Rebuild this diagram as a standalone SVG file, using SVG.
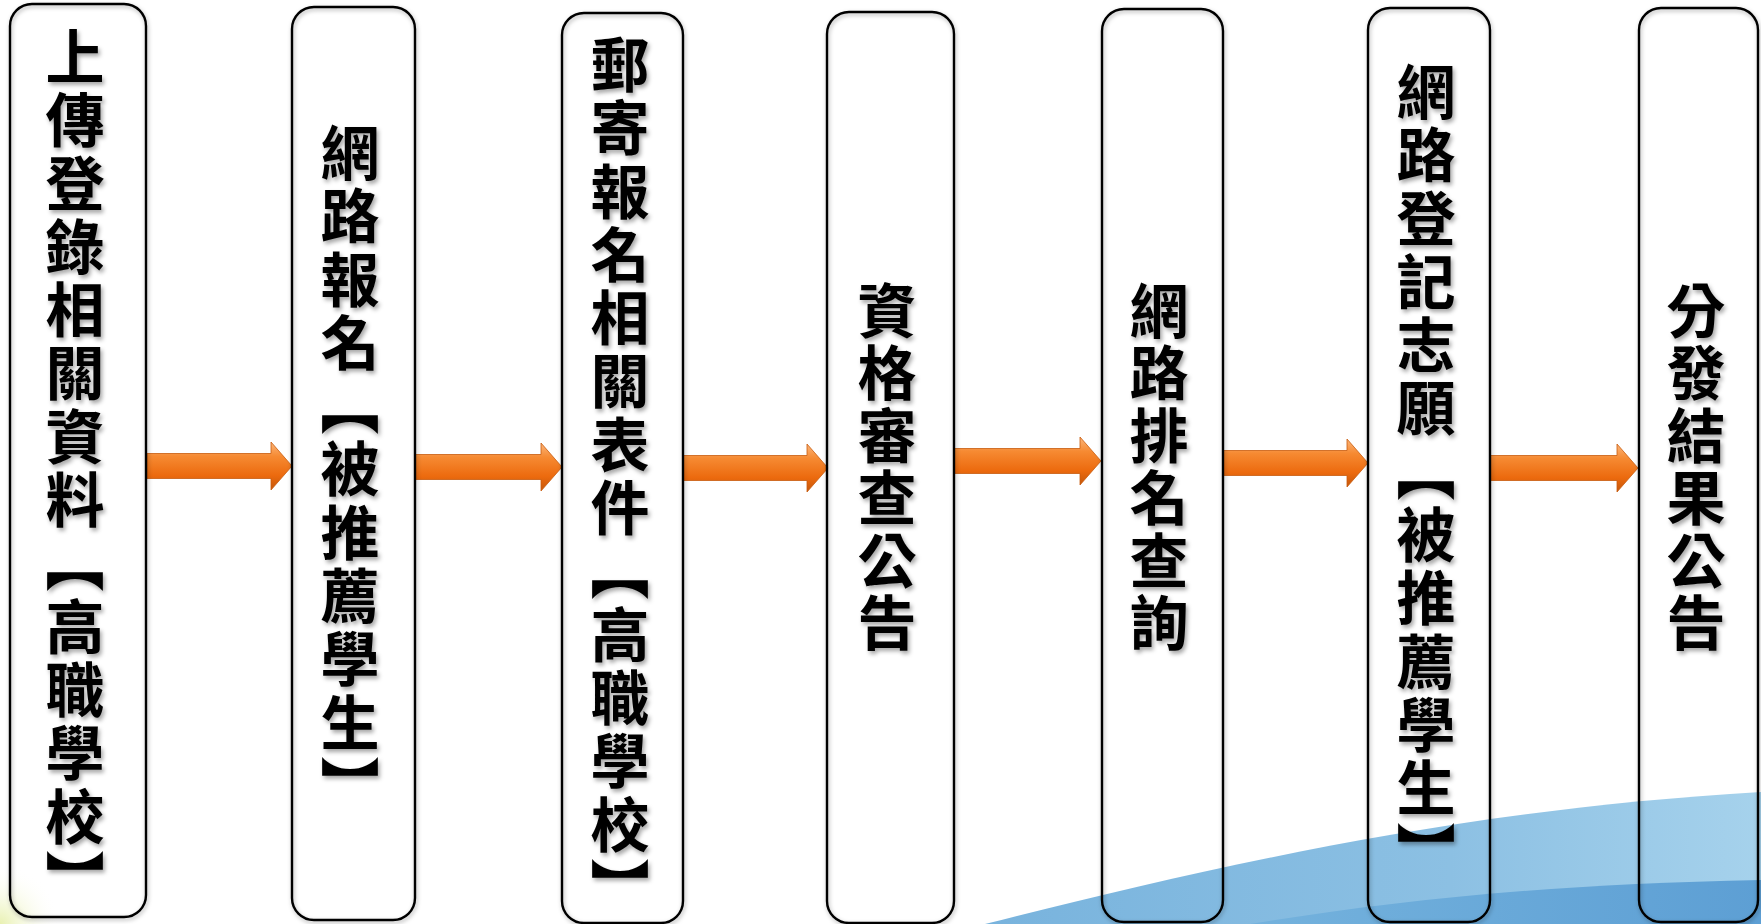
<svg xmlns="http://www.w3.org/2000/svg" width="1761" height="924" viewBox="0 0 1761 924">
<defs>
<style>
.box{fill:none;stroke:#000;stroke-width:2.4;filter:url(#bs)}
.lbl{font-family:"Noto Sans CJK TC","Noto Sans CJK SC",sans-serif;font-size:59px;font-weight:700;fill:#000;writing-mode:vertical-rl;letter-spacing:4.3px;filter:url(#ts)}
.lbs{letter-spacing:3.5px}
.arr{fill:url(#og);stroke:#c85a0c;stroke-width:0.8}
</style>
<linearGradient id="og" x1="0" y1="0" x2="0" y2="1">
<stop offset="0" stop-color="#fbb57a"/>
<stop offset="0.3" stop-color="#f68a32"/>
<stop offset="0.7" stop-color="#ec6a0e"/>
<stop offset="1" stop-color="#c4560a"/>
</linearGradient>
<linearGradient id="w1" x1="0" y1="0" x2="1" y2="0">
<stop offset="0" stop-color="#78b3dd"/>
<stop offset="0.6" stop-color="#8cc0e3"/>
<stop offset="1" stop-color="#a6d2ec"/>
</linearGradient>
<linearGradient id="w2" x1="0" y1="0" x2="1" y2="0">
<stop offset="0" stop-color="#74b2dd"/>
<stop offset="1" stop-color="#5d9fd4"/>
</linearGradient>
<radialGradient id="gl" cx="0" cy="924" r="60" gradientUnits="userSpaceOnUse">
<stop offset="0" stop-color="#e6efa8" stop-opacity="0.9"/>
<stop offset="1" stop-color="#ffffff" stop-opacity="0"/>
</radialGradient>
<filter id="ts" x="-20%" y="-5%" width="140%" height="110%">
<feDropShadow dx="2" dy="3" stdDeviation="2" flood-color="#000" flood-opacity="0.35"/>
</filter>
<filter id="bs" x="-10%" y="-2%" width="120%" height="104%">
<feDropShadow dx="1" dy="2" stdDeviation="2" flood-color="#000" flood-opacity="0.3"/>
</filter>
</defs>
<rect width="1761" height="924" fill="#ffffff"/>
<g id="background">
<path d="M985 924 C1200 870 1450 810 1761 792 L1761 924 Z" fill="url(#w1)"/>
<path d="M1250 924 C1400 900 1550 884 1761 880 L1761 924 Z" fill="url(#w2)"/>
<rect x="0" y="864" width="60" height="60" fill="url(#gl)"/>
</g>
<g id="connectors">
<path class="arr" d="M147 453.5 L271 453.5 L271 442 L292 466 L271 490 L271 478.5 L147 478.5 Z"/>
<path class="arr" d="M415 454.5 L541 454.5 L541 443 L562 467 L541 491 L541 479.5 L415 479.5 Z"/>
<path class="arr" d="M683 455.5 L807 455.5 L807 444 L828 468 L807 492 L807 480.5 L683 480.5 Z"/>
<path class="arr" d="M954 448.5 L1080 448.5 L1080 437 L1101 461 L1080 485 L1080 473.5 L954 473.5 Z"/>
<path class="arr" d="M1223 450.5 L1347 450.5 L1347 439 L1368 463 L1347 487 L1347 475.5 L1223 475.5 Z"/>
<path class="arr" d="M1490 455.5 L1617 455.5 L1617 444 L1638 468 L1617 492 L1617 480.5 L1490 480.5 Z"/>
</g>
<g id="n1">
<rect class="box" x="10" y="4" width="136" height="913" rx="22"/>
<text class="lbl" x="75" y="27">上傳登錄相關資料【高職學校】</text>
</g>
<g id="n2">
<rect class="box" x="292" y="7" width="123" height="913" rx="22"/>
<text class="lbl" x="350" y="123">網路報名【被推薦學生】</text>
</g>
<g id="n3">
<rect class="box" x="562" y="13" width="121" height="910" rx="22"/>
<text class="lbl" x="620" y="35">郵寄報名相關表件【高職學校】</text>
</g>
<g id="n4">
<rect class="box" x="827" y="12" width="127" height="911" rx="22"/>
<text class="lbl lbs" x="887" y="281">資格審查公告</text>
</g>
<g id="n5">
<rect class="box" x="1102" y="9" width="121" height="913" rx="22"/>
<text class="lbl lbs" x="1159" y="281">網路排名查詢</text>
</g>
<g id="n6">
<rect class="box" x="1368" y="8" width="122" height="914" rx="22"/>
<text class="lbl" x="1426" y="62">網路登記志願【被推薦學生】</text>
</g>
<g id="n7">
<rect class="box" x="1639" y="8" width="119" height="914" rx="22"/>
<text class="lbl lbs" x="1696" y="281">分發結果公告</text>
</g>
</svg>
